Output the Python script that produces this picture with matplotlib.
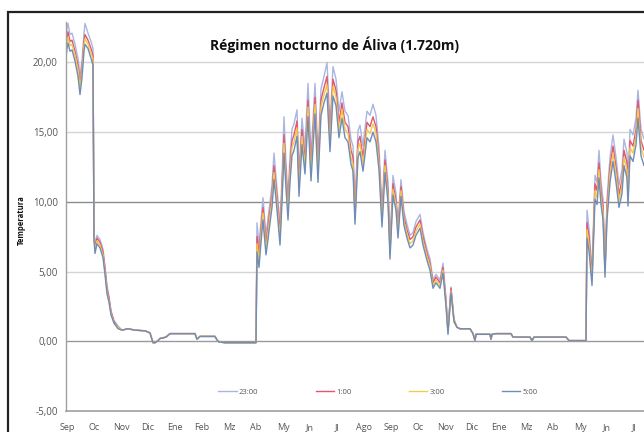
import matplotlib
matplotlib.use("Agg")
import matplotlib.pyplot as plt
from matplotlib.patches import Rectangle

# ---- data (x = day index along the axis, values in degrees C) ----
dia = [0, 1, 2, 4, 6, 9, 12, 14, 16, 18, 19, 22, 25, 27, 28, 29, 31, 34, 37, 39,
       41, 43, 45, 48, 52, 56, 62, 69, 79, 84, 87, 89, 92, 94, 100, 104, 129, 130,
       131, 134, 149, 151, 153, 159, 190, 191, 193, 195, 197, 200, 202, 204, 206,
       208, 210, 212, 214, 216, 218, 220, 222, 224, 226, 228, 231, 233, 236, 239,
       242, 245, 247, 249, 252, 255, 258, 261, 264, 267, 270, 273, 276, 279, 282,
       285, 287, 289, 292, 294, 297, 301, 304, 307, 310, 313, 316, 319, 322, 324,
       327, 330, 332, 335, 338, 341, 344, 347, 350, 354, 357, 361, 364, 367, 370,
       374, 377, 380, 382, 385, 388, 391, 394, 404, 407, 409, 410, 424, 425, 426,
       430, 445, 447, 464, 466, 468, 500, 503, 520, 521, 523, 526, 529, 531, 533,
       535, 537, 539, 541, 544, 547, 550, 553, 556, 558, 561, 562, 564, 567, 570,
       572, 575, 578, 584]

t_2300 = [21.4, 22.5, 22.8, 22.0, 22.1, 21.3, 20.3, 19.1, 20.1, 22.1, 22.8, 22.1, 21.5, 21.0,
          7.8, 7.0, 7.6, 7.3, 6.6, 5.4, 4.0, 3.2, 2.2, 1.5, 1.1,
          0.8, 0.9, 0.8, 0.75, 0.6, -0.1, -0.1, 0.05, 0.2, 0.3, 0.55, 0.55, 0.35, 0.15, 0.35,
          0.35, 0.1, -0.05, -0.1, -0.1,
          8.5, 6.9, 8.6, 10.3, 7.6, 8.8, 10.0, 11.2, 13.5, 11.8, 10.1, 8.4, 11.7, 16.1, 12.8,
          10.3, 13.3, 15.2, 15.6, 16.6, 12.1, 16.0, 13.8, 18.5, 13.3, 15.8, 18.5, 13.3, 18.1,
          19.0, 20.0, 15.5, 19.7, 18.8, 16.5, 17.9, 16.5, 16.2, 14.5, 14.0, 9.7, 15.1, 15.5,
          14.0, 16.5, 16.2, 17.0, 16.2, 13.9, 9.5, 13.7, 11.4, 7.0, 11.9, 10.6, 8.4, 11.6,
          9.3, 8.4, 7.6, 7.8, 8.6, 9.1, 7.8, 6.6, 5.9, 4.4, 4.8, 4.4, 5.6, 3.1, 0.8, 3.9, 1.6,
          1.0, 0.9, 0.9, 0.55, 0.05, 0.5, 0.5, 0.15, 0.5, 0.55, 0.55, 0.3, 0.3, 0.05, 0.3,
          0.3, 0.05, 0.05,
          9.4, 8.1, 5.1, 11.9, 11.4, 13.7, 11.5, 10.2, 5.6, 10.2, 13.2, 14.8, 13.2, 11.2,
          12.3, 14.5, 13.5, 11.3, 15.2, 14.8, 16.0, 18.0, 15.2, 14.5, 15.3]

t_0100 = [21.0, 21.8, 22.2, 21.5, 21.6, 20.8, 19.8, 18.5, 19.6, 21.5, 22.0, 21.6, 21.0, 20.5,
          7.6, 6.7, 7.4, 7.1, 6.4, 5.2, 3.8, 3.1, 2.1, 1.4, 1.0,
          0.8, 0.9, 0.8, 0.75, 0.6, -0.1, -0.1, 0.05, 0.2, 0.3, 0.55, 0.55, 0.35, 0.15, 0.35,
          0.35, 0.1, -0.05, -0.1, -0.1,
          7.5, 6.3, 8.0, 9.6, 7.0, 8.2, 9.4, 10.5, 12.6, 11.1, 9.5, 7.8, 11.0, 14.8, 12.0,
          9.6, 12.5, 14.4, 14.8, 15.8, 11.4, 15.2, 13.0, 17.3, 12.5, 15.0, 17.5, 12.5, 17.3,
          18.2, 19.0, 14.7, 18.8, 18.0, 15.7, 17.1, 15.7, 15.4, 13.7, 13.2, 9.0, 14.3, 14.7,
          13.2, 15.7, 15.4, 16.1, 15.4, 13.2, 8.9, 13.0, 10.8, 6.5, 11.3, 10.1, 8.0, 11.1,
          8.9, 8.0, 7.3, 7.5, 8.2, 8.7, 7.5, 6.3, 5.6, 4.2, 4.6, 4.2, 5.3, 2.9, 0.7, 3.8, 1.5,
          1.0, 0.9, 0.9, 0.55, 0.05, 0.5, 0.5, 0.15, 0.5, 0.55, 0.55, 0.3, 0.3, 0.05, 0.3,
          0.3, 0.05, 0.05,
          8.5, 7.5, 4.6, 11.3, 10.8, 12.8, 10.8, 9.6, 5.1, 9.6, 12.5, 14.0, 12.5, 10.5,
          11.6, 13.7, 12.8, 10.6, 14.4, 14.0, 15.2, 17.3, 14.4, 13.7, 14.5]

t_0300 = [20.7, 21.4, 21.8, 21.2, 21.3, 20.5, 19.5, 18.2, 19.3, 21.2, 21.7, 21.3, 20.7, 20.2,
          7.5, 6.5, 7.2, 6.9, 6.2, 5.0, 3.6, 2.9, 2.0, 1.3, 1.0,
          0.8, 0.9, 0.8, 0.75, 0.6, -0.1, -0.1, 0.05, 0.2, 0.3, 0.55, 0.55, 0.35, 0.15, 0.35,
          0.35, 0.1, -0.05, -0.1, -0.1,
          7.0, 5.8, 7.6, 9.2, 6.6, 7.8, 9.0, 10.1, 12.1, 10.7, 9.1, 7.4, 10.5, 14.2, 11.5,
          9.2, 12.0, 13.9, 14.3, 15.3, 11.0, 14.7, 12.5, 16.8, 12.0, 14.5, 17.0, 12.0, 16.8,
          17.7, 18.4, 14.2, 18.3, 17.5, 15.2, 16.6, 15.2, 14.9, 13.2, 12.7, 8.7, 13.8, 14.2,
          12.7, 15.2, 14.9, 15.6, 14.9, 12.8, 8.6, 12.6, 10.4, 6.2, 10.9, 9.8, 7.7, 10.8,
          8.6, 7.7, 7.0, 7.2, 7.9, 8.4, 7.2, 6.1, 5.4, 4.0, 4.4, 4.0, 5.1, 2.7, 0.6, 3.6, 1.4,
          1.0, 0.9, 0.9, 0.55, 0.05, 0.5, 0.5, 0.15, 0.5, 0.55, 0.55, 0.3, 0.3, 0.05, 0.3,
          0.3, 0.05, 0.05,
          8.0, 7.0, 4.3, 10.8, 10.3, 12.3, 10.3, 9.2, 4.9, 9.2, 12.0, 13.5, 12.0, 10.1,
          11.1, 13.2, 12.3, 10.2, 13.9, 13.5, 14.7, 16.7, 13.9, 13.2, 14.0]

t_0500 = [20.3, 21.0, 21.4, 20.8, 20.9, 20.1, 19.0, 17.7, 18.9, 20.8, 21.3, 21.0, 20.3, 19.8,
          7.3, 6.3, 7.0, 6.7, 6.0, 4.8, 3.4, 2.8, 1.9, 1.3, 0.9,
          0.8, 0.9, 0.8, 0.75, 0.6, -0.1, -0.1, 0.05, 0.2, 0.3, 0.55, 0.55, 0.35, 0.15, 0.35,
          0.35, 0.1, -0.05, -0.1, -0.1,
          6.4, 5.3, 7.1, 8.7, 6.2, 7.3, 8.5, 9.6, 11.6, 10.2, 8.6, 6.9, 10.0, 13.5, 11.0,
          8.7, 11.4, 13.3, 13.7, 14.7, 10.4, 14.1, 12.0, 16.1, 11.5, 13.9, 16.3, 11.4, 16.2,
          17.1, 17.8, 13.6, 17.6, 16.9, 14.6, 16.0, 14.6, 14.3, 12.7, 12.2, 8.4, 13.2, 13.6,
          12.2, 14.6, 14.3, 15.0, 14.3, 12.3, 8.2, 12.1, 10.0, 5.9, 10.5, 9.4, 7.4, 10.4,
          8.3, 7.4, 6.7, 6.9, 7.6, 8.1, 6.9, 5.8, 5.1, 3.8, 4.2, 3.8, 4.9, 2.5, 0.5, 3.5, 1.4,
          1.0, 0.9, 0.9, 0.55, 0.05, 0.5, 0.5, 0.15, 0.5, 0.55, 0.55, 0.3, 0.3, 0.05, 0.3,
          0.3, 0.05, 0.05,
          7.4, 6.5, 4.0, 10.2, 9.8, 11.7, 9.8, 8.7, 4.6, 8.7, 11.4, 12.9, 11.4, 9.6,
          10.6, 12.6, 11.7, 9.7, 13.3, 12.9, 14.1, 16.0, 13.3, 12.6, 13.4]

series_names = ["23:00", "1:00", "3:00", "5:00"]
series_colors = ["#a9b6e2", "#e2566e", "#f3c94e", "#6f8db8"]

meses = ["Sep", "Oc", "Nov", "Dic", "Ene", "Feb", "Mz", "Ab", "My", "Jn", "Jl",
         "Ago", "Sep", "Oc", "Nov", "Dic", "Ene", "Mz", "Ab", "My", "Jn", "Jl"]
mes_pos = [1 + 27 * k for k in range(len(meses))]

yticks = [-5, 0, 5, 10, 15, 20]
ytick_labels = ["-5,00", "0,00", "5,00", "10,00", "15,00", "20,00"]

# ---- figure ----
W, H = 644, 432
fig = plt.figure(figsize=(W / 100, H / 100), dpi=100)
fig.patch.set_facecolor("white")
font = "Open Sans"

ax_left, ax_right_px, ax_top, ax_bot = 66, 700, 22, 411
ax = fig.add_axes([ax_left / W, (H - ax_bot) / H,
                   (ax_right_px - ax_left) / W, (ax_bot - ax_top) / H])
ax.set_xlim(0, 634)
ax.set_ylim(-5, 22.9)

# gridlines
for v, c in [(5, "#d4d4d4"), (15, "#d4d4d4"), (20, "#d4d4d4"),
             (10, "#8c8c8c"), (0, "#9a9a9a")]:
    ax.axhline(v, color=c, lw=1.0, zorder=0)

series = [t_2300, t_0100, t_0300, t_0500]
for name, col, vals in zip(series_names, series_colors, series):
    ax.plot(dia, vals, color=col, lw=1.0, label=name, zorder=2)

for s in ["top", "right"]:
    ax.spines[s].set_visible(False)
ax.spines["left"].set_color("#a0a0a0")
ax.spines["bottom"].set_color("#a0a0a0")
ax.spines["left"].set_linewidth(1.0)
ax.spines["bottom"].set_linewidth(1.2)

ax.set_yticks(yticks)
ax.set_yticklabels(ytick_labels, fontsize=7, family=font, color="#555555")
ax.set_xticks(mes_pos)
ax.set_xticklabels(meses, fontsize=6.5, family=font, color="#555555")
ax.tick_params(axis="y", length=0, pad=6)
ax.tick_params(axis="x", length=0, pad=9)

fig.text(334 / W, 1 - 45 / H, "Régimen nocturno de Áliva (1.720m)",
         ha="center", va="center", fontsize=10, fontweight="bold", family=font,
         color="#111111")
fig.text(21 / W, 1 - 220 / H, "Temperatura", rotation=90, ha="center", va="center",
         fontsize=5.5, fontweight="bold", family=font, color="#111111")

leg = fig.legend(loc="center", bbox_to_anchor=(378 / W, 1 - 392 / H), ncol=4,
                 frameon=False, handlelength=2.4, handletextpad=0.3,
                 columnspacing=7.5, prop={"family": font, "size": 5.5})
for t in leg.get_texts():
    t.set_color("#555555")

# outer chart frame (cropped)
fig.patches.append(Rectangle((8 / W, -0.2), 1.2, (H - 12) / H + 0.2,
                             transform=fig.transFigure, fill=False,
                             edgecolor="#222222", lw=1.6, zorder=5))

fig.savefig("out.png", dpi=100)
